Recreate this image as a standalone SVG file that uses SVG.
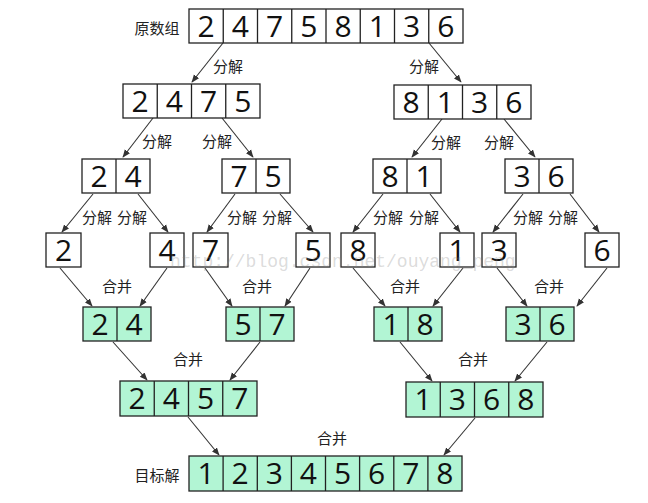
<svg xmlns="http://www.w3.org/2000/svg" width="648" height="503" viewBox="0 0 648 503">
<defs>
<style>
.w{fill:#fff;stroke:#222;stroke-width:1.3}
.g{fill:#b2f5d4;stroke:#222;stroke-width:1.3}
.d{stroke:#222;stroke-width:1.3}
.n{font-family:"Open Sans","Noto Sans",sans-serif;font-size:30px;fill:#111;text-anchor:middle}
.l{font-family:"Noto Sans CJK SC","Noto Sans",sans-serif;font-size:15px;fill:#222;text-anchor:middle;dominant-baseline:central}
.c line{stroke:#333;stroke-width:1.1;marker-end:url(#a)}
</style>
<marker id="a" viewBox="0 0 10 10" refX="9" refY="5" markerWidth="8" markerHeight="8" orient="auto" markerUnits="userSpaceOnUse">
<path d="M0,1 L10,5 L0,9 Z" fill="#333"/>
</marker>
</defs>
<rect width="648" height="503" fill="#fff"/>

<g id="connectors" class="c">
<line x1="223" y1="43" x2="192" y2="82"/>
<line x1="429" y1="43" x2="461" y2="82"/>
<line x1="153" y1="118" x2="123" y2="157"/>
<line x1="222" y1="118" x2="253" y2="157"/>
<line x1="442" y1="119" x2="412" y2="157"/>
<line x1="504" y1="119" x2="535" y2="157"/>
<line x1="93" y1="194" x2="62" y2="232"/>
<line x1="138" y1="194" x2="168" y2="232"/>
<line x1="235" y1="194" x2="207" y2="232"/>
<line x1="280" y1="194" x2="313" y2="232"/>
<line x1="383" y1="194" x2="353" y2="232"/>
<line x1="430" y1="194" x2="460" y2="232"/>
<line x1="523" y1="194" x2="493" y2="232"/>
<line x1="570" y1="194" x2="599" y2="232"/>
<line x1="60" y1="268" x2="92" y2="306"/>
<line x1="167" y1="268" x2="140" y2="306"/>
<line x1="205" y1="268" x2="232" y2="306"/>
<line x1="310" y1="268" x2="285" y2="306"/>
<line x1="353" y1="268" x2="385" y2="306"/>
<line x1="463" y1="268" x2="433" y2="306"/>
<line x1="497" y1="268" x2="527" y2="306"/>
<line x1="607" y1="268" x2="577" y2="306"/>
<line x1="113" y1="342" x2="147" y2="380"/>
<line x1="260" y1="342" x2="230" y2="380"/>
<line x1="400" y1="342" x2="432" y2="381"/>
<line x1="547" y1="342" x2="515" y2="381"/>
<line x1="188" y1="417" x2="219" y2="455"/>
<line x1="475" y1="418" x2="444" y2="455"/>
</g>

<g id="labels">
<text class="l" x="157" y="27">原数组</text>
<text class="l" x="157" y="474">目标解</text>
<text class="l" x="228" y="65">分解</text>
<text class="l" x="424" y="65">分解</text>
<text class="l" x="157" y="140">分解</text>
<text class="l" x="217" y="140">分解</text>
<text class="l" x="446" y="141">分解</text>
<text class="l" x="499" y="141">分解</text>
<text class="l" x="97" y="216">分解</text>
<text class="l" x="132" y="216">分解</text>
<text class="l" x="242" y="216">分解</text>
<text class="l" x="277" y="216">分解</text>
<text class="l" x="388" y="216">分解</text>
<text class="l" x="424" y="216">分解</text>
<text class="l" x="528" y="216">分解</text>
<text class="l" x="563" y="216">分解</text>
<text class="l" x="117" y="285">合并</text>
<text class="l" x="257" y="285">合并</text>
<text class="l" x="405" y="285">合并</text>
<text class="l" x="549" y="285">合并</text>
<text class="l" x="188" y="358">合并</text>
<text class="l" x="473" y="358">合并</text>
<text class="l" x="332" y="437">合并</text>
</g>

<g id="n-top">
<rect class="w" x="189" y="9" width="274" height="34"/>
<path class="d" d="M223.25,9V43M257.5,9V43M291.75,9V43M326,9V43M360.25,9V43M394.5,9V43M428.75,9V43"/>
<text class="n" y="36.5"><tspan x="206.1">2</tspan><tspan x="240.4">4</tspan><tspan x="274.6">7</tspan><tspan x="308.9">5</tspan><tspan x="343.1">8</tspan><tspan x="377.4">1</tspan><tspan x="411.6">3</tspan><tspan x="445.9">6</tspan></text>
</g>

<g id="n-2475">
<rect class="w" x="123" y="84" width="137" height="34"/>
<path class="d" d="M157.25,84V118M191.5,84V118M225.75,84V118"/>
<text class="n" y="111.5"><tspan x="140.1">2</tspan><tspan x="174.4">4</tspan><tspan x="208.6">7</tspan><tspan x="242.9">5</tspan></text>
</g>
<g id="n-8136">
<rect class="w" x="394" y="85" width="137" height="34"/>
<path class="d" d="M428.25,85V119M462.5,85V119M496.75,85V119"/>
<text class="n" y="112.5"><tspan x="411.1">8</tspan><tspan x="445.4">1</tspan><tspan x="479.6">3</tspan><tspan x="513.9">6</tspan></text>
</g>

<g id="n-24">
<rect class="w" x="82" y="159" width="68" height="34"/>
<path class="d" d="M116,159V193"/>
<text class="n" y="186.5"><tspan x="99">2</tspan><tspan x="133">4</tspan></text>
</g>
<g id="n-75">
<rect class="w" x="222" y="159" width="68" height="34"/>
<path class="d" d="M256,159V193"/>
<text class="n" y="186.5"><tspan x="239">7</tspan><tspan x="273">5</tspan></text>
</g>
<g id="n-81">
<rect class="w" x="373" y="159" width="68" height="34"/>
<path class="d" d="M407,159V193"/>
<text class="n" y="186.5"><tspan x="390">8</tspan><tspan x="424">1</tspan></text>
</g>
<g id="n-36">
<rect class="w" x="505" y="159" width="68" height="34"/>
<path class="d" d="M539,159V193"/>
<text class="n" y="186.5"><tspan x="522">3</tspan><tspan x="556">6</tspan></text>
</g>

<g id="n-s2"><rect class="w" x="46" y="233" width="35" height="34"/><text class="n" x="63.5" y="260.5">2</text></g>
<g id="n-s4"><rect class="w" x="150" y="233" width="34" height="34"/><text class="n" x="167" y="260.5">4</text></g>
<g id="n-s7"><rect class="w" x="193" y="233" width="35" height="34"/><text class="n" x="210.5" y="260.5">7</text></g>
<g id="n-s5"><rect class="w" x="296" y="233" width="34" height="34"/><text class="n" x="313" y="260.5">5</text></g>
<g id="n-s8"><rect class="w" x="341" y="233" width="34" height="34"/><text class="n" x="358" y="260.5">8</text></g>
<g id="n-s1"><rect class="w" x="440" y="233" width="34" height="34"/><text class="n" x="457" y="260.5">1</text></g>
<g id="n-s3"><rect class="w" x="482" y="233" width="34" height="34"/><text class="n" x="499" y="260.5">3</text></g>
<g id="n-s6"><rect class="w" x="585" y="233" width="34" height="34"/><text class="n" x="602" y="260.5">6</text></g>

<g id="m-24">
<rect class="g" x="83" y="307" width="68" height="34"/>
<path class="d" d="M117,307V341"/>
<text class="n" y="334.5"><tspan x="100">2</tspan><tspan x="134">4</tspan></text>
</g>
<g id="m-57">
<rect class="g" x="226" y="307" width="68" height="34"/>
<path class="d" d="M260,307V341"/>
<text class="n" y="334.5"><tspan x="243">5</tspan><tspan x="277">7</tspan></text>
</g>
<g id="m-18">
<rect class="g" x="374" y="307" width="68" height="34"/>
<path class="d" d="M408,307V341"/>
<text class="n" y="334.5"><tspan x="391">1</tspan><tspan x="425">8</tspan></text>
</g>
<g id="m-36">
<rect class="g" x="506" y="307" width="68" height="34"/>
<path class="d" d="M540,307V341"/>
<text class="n" y="334.5"><tspan x="523">3</tspan><tspan x="557">6</tspan></text>
</g>

<g id="m-2457">
<rect class="g" x="120" y="381" width="137" height="35"/>
<path class="d" d="M154.25,381V416M188.5,381V416M222.75,381V416"/>
<text class="n" y="409"><tspan x="137.1">2</tspan><tspan x="171.4">4</tspan><tspan x="205.6">5</tspan><tspan x="239.9">7</tspan></text>
</g>
<g id="m-1368">
<rect class="g" x="406" y="382" width="137" height="35"/>
<path class="d" d="M440.25,382V417M474.5,382V417M508.75,382V417"/>
<text class="n" y="410"><tspan x="423.1">1</tspan><tspan x="457.4">3</tspan><tspan x="491.6">6</tspan><tspan x="525.9">8</tspan></text>
</g>

<g id="n-final">
<rect class="g" x="189" y="456" width="273" height="35"/>
<path class="d" d="M223.1,456V491M257.3,456V491M291.4,456V491M325.5,456V491M359.6,456V491M393.8,456V491M427.9,456V491"/>
<text class="n" y="484"><tspan x="206.1">1</tspan><tspan x="240.2">2</tspan><tspan x="274.3">3</tspan><tspan x="308.4">4</tspan><tspan x="342.6">5</tspan><tspan x="376.7">6</tspan><tspan x="410.8">7</tspan><tspan x="444.9">8</tspan></text>
</g>

<text x="170" y="267" font-family="'Liberation Mono',monospace" font-size="18" fill="#888" fill-opacity="0.3">http://blog.csdn.net/ouyang_peng</text>
</svg>
